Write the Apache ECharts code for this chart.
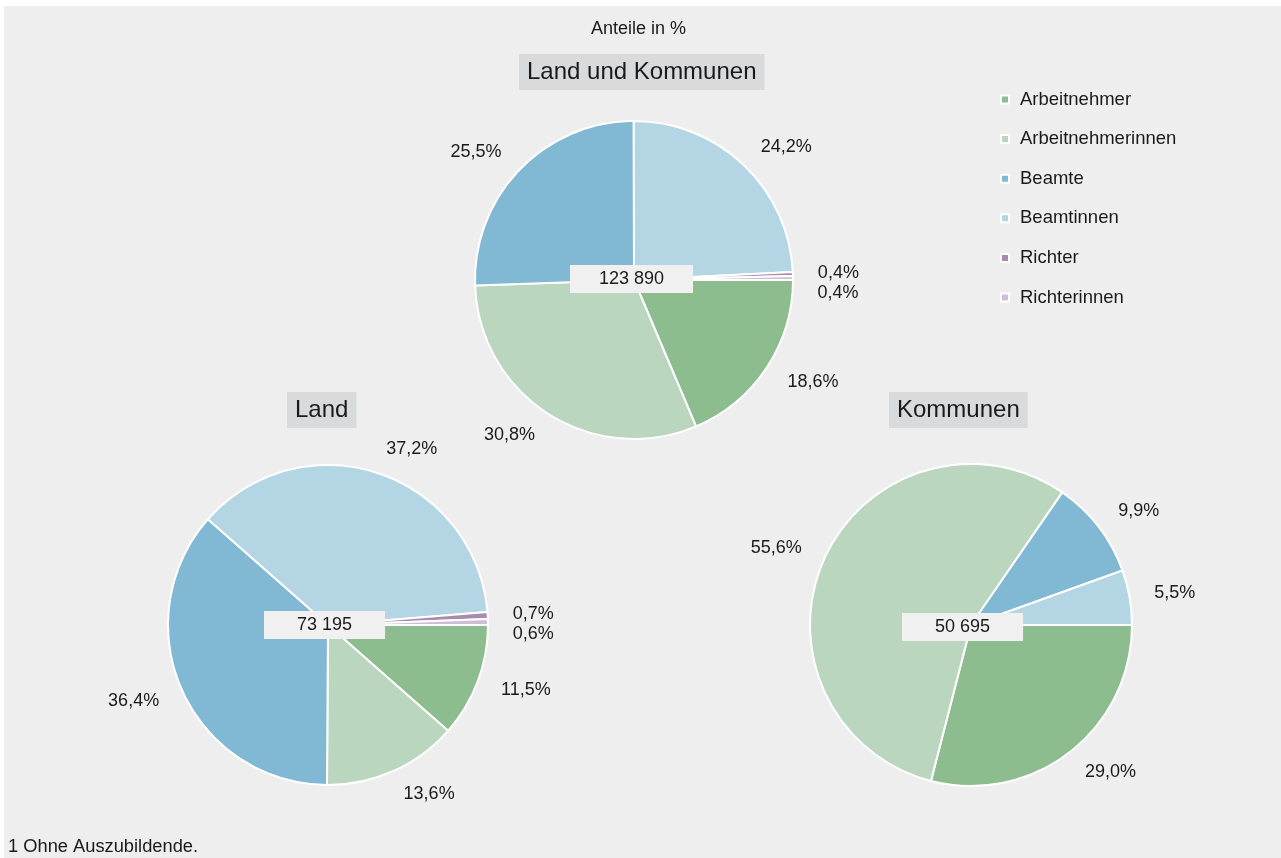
<!DOCTYPE html>
<html>
<head>
<meta charset="utf-8">
<script src="https://cdn.jsdelivr.net/npm/echarts@6/dist/echarts.min.js"></script>
<style>
  html, body { margin: 0; padding: 0; background: #ffffff; }
  #chart { position: absolute; left: 4px; top: 6px; width: 1277px; height: 852px; }
</style>
</head>
<body>
<div id="chart"></div>
<script>
// Kategorien (Legende)
const categories = ["Arbeitnehmer", "Arbeitnehmerinnen", "Beamte", "Beamtinnen", "Richter", "Richterinnen"];
// Anteile in % je Bereich
const landUndKommunen = [18.6, 30.8, 25.5, 24.2, 0.4, 0.4];
const land = [11.5, 13.6, 36.4, 37.2, 0.7, 0.6];
const kommunen = [29.0, 55.6, 9.9, 5.5, 0, 0];
// Gesamtzahlen in der Mitte
const pieTitles = ["Land und Kommunen", "Land", "Kommunen"];
const totals = ["123 890", "73 195", "50 695"];

const colors = ["#8dbc8f", "#bad6bf", "#81b8d4", "#b4d5e4", "#a98bb0", "#cfbfd6"];
const font = "Liberation Sans, Arial, sans-serif";
const txt = "#1a1a1a";

// pixel layout inside the chart div (tx/ty = title box top-left, bx/by = total box top-left)
const layout = [
  { cx: 630, cy: 274, r: 159, tx: 515, ty: 48, bx: 566, by: 259, padX: 29 },
  { cx: 324, cy: 619, r: 160, tx: 283, ty: 386, bx: 260, by: 605, padX: 33 },
  { cx: 967, cy: 619, r: 161, tx: 885, ty: 386, bx: 898, by: 607, padX: 33 }
];

function toData(values) {
  return values
    .map((v, i) => ({ name: categories[i], value: v, itemStyle: { color: colors[i] } }))
    .filter(d => d.value > 0);
}

function fmt(v) {
  return v.toFixed(1).replace(".", ",") + "%";
}

let myChart = echarts.init(document.getElementById("chart"));

const allValues = [landUndKommunen, land, kommunen];

const series = allValues.map((vals, k) => ({
  name: pieTitles[k],
  type: "pie",
  center: [layout[k].cx, layout[k].cy],
  radius: [0, layout[k].r],
  startAngle: 0,
  clockwise: true,
  animation: false,
  itemStyle: { borderColor: "#ffffff", borderWidth: 2 },
  label: {
    show: true,
    position: "outside",
    formatter: p => fmt(p.value),
    fontSize: 18,
    fontFamily: font,
    color: txt,
    distanceToLabelLine: 0
  },
  labelLine: { show: false, length: 25, length2: 0 },
  emphasis: { disabled: true },
  data: toData(vals)
}));

const titles = [
  {
    text: "Anteile in %",
    left: 587,
    top: 14,
    padding: 0,
    textStyle: { fontSize: 18, fontWeight: "normal", fontFamily: font, color: txt }
  }
];
pieTitles.forEach((t, k) => {
  titles.push({
    text: t,
    left: layout[k].tx,
    top: layout[k].ty,
    backgroundColor: "#d9dadb",
    padding: [6, 8, 6, 8],
    textStyle: { fontSize: 24, fontWeight: "normal", fontFamily: font, color: txt }
  });
  titles.push({
    text: totals[k],
    left: layout[k].bx,
    top: layout[k].by,
    backgroundColor: "#eff0ef",
    padding: [5, layout[k].padX, 5, layout[k].padX],
    textStyle: { fontSize: 18, fontWeight: "normal", fontFamily: font, color: txt }
  });
});
titles.push({
  text: "1 Ohne Auszubildende.",
  left: 4,
  top: 832,
  padding: 0,
  textStyle: { fontSize: 18.3, fontWeight: "normal", fontFamily: font, color: txt }
});

let option = {
  backgroundColor: "#edeeed",
  title: titles,
  legend: {
    data: categories,
    orient: "vertical",
    left: 996,
    top: 84,
    padding: 0,
    icon: "rect",
    itemWidth: 8,
    itemHeight: 8,
    itemGap: 20.6,
    textStyle: { fontSize: 18.5, fontFamily: font, color: txt, padding: [0, 0, 0, 6] },
    selectedMode: false
  },
  series: series
};

myChart.setOption(option);
</script>
</body>
</html>
